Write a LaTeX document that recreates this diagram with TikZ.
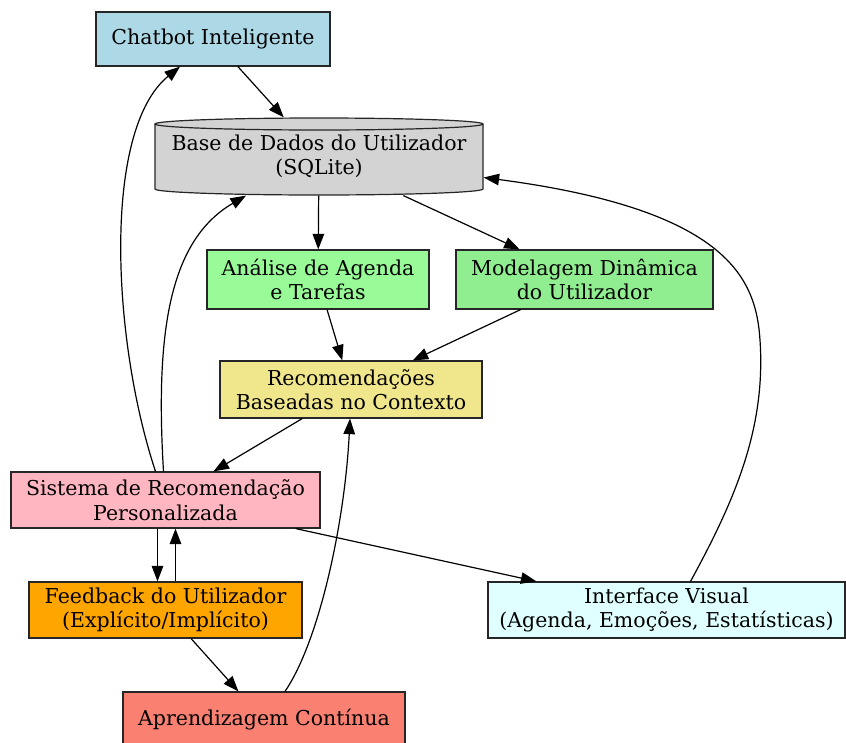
\documentclass[tikz,border=0pt]{standalone}
\usepackage{fontspec}
\setmainfont{DejaVu Serif}
\usetikzlibrary{arrows.meta}
\definecolor{clightblue}{HTML}{ADD8E6}
\definecolor{clightgray}{HTML}{D3D3D3}
\definecolor{cpalegreen}{HTML}{98FB98}
\definecolor{clightgreen}{HTML}{90EE90}
\definecolor{ckhaki}{HTML}{F0E68C}
\definecolor{clightpink}{HTML}{FFB6C1}
\definecolor{corange}{HTML}{FFA500}
\definecolor{clightcyan}{HTML}{E0FFFF}
\definecolor{csalmon}{HTML}{FA8072}
\tikzset{
  box/.style={draw=black!85, line width=1.2pt, rectangle, align=center,
    inner sep=0pt, font=\fontsize{20.5}{24.6}\selectfont},
  link/.style={draw=black, line width=1.2pt,
    -{Triangle[length=15.5pt,width=11.5pt]}}
}
\begin{document}
\begin{tikzpicture}[x=1pt,y=-1pt]
\useasboundingbox (0,0) rectangle (846,742);
\clip (0,0) rectangle (846,742);
\fill[white] (0,0) rectangle (846,742);

% database cylinder (outline drawn by hand, node used for connections)
\fill[clightgray] (155,124) -- (155,189)
  .. controls (155,192.3) and (228.4,195) .. (319,195)
  .. controls (409.6,195) and (483,192.3) .. (483,189) -- (483,124) -- cycle;
\fill[clightgray] (319,124) ellipse[x radius=164, y radius=6];
\draw[line width=1.2pt, black!85] (155,124) -- (155,189)
  .. controls (155,192.3) and (228.4,195) .. (319,195)
  .. controls (409.6,195) and (483,192.3) .. (483,189) -- (483,124);
\draw[line width=1.2pt, black!85] (319,124) ellipse[x radius=164, y radius=6];
\node[box, draw=none, minimum width=328pt, minimum height=77pt] (db) at (319,156.5)
  {Base de Dados do Utilizador\\(SQLite)};

\node[box, fill=clightblue, minimum width=234pt, minimum height=54pt] (chat) at (213,39) {Chatbot Inteligente};
\node[box, fill=cpalegreen, minimum width=222pt, minimum height=59pt] (ana) at (318,279.5) {Análise de Agenda\\e Tarefas};
\node[box, fill=clightgreen, minimum width=257pt, minimum height=59pt] (mod) at (584.5,279.5) {Modelagem Dinâmica\\do Utilizador};
\node[box, fill=ckhaki, minimum width=262pt, minimum height=57pt] (rec) at (351,389.5) {Recomendações\\Baseadas no Contexto};
\node[box, fill=clightpink, minimum width=309pt, minimum height=56pt] (sis) at (165.5,500) {Sistema de Recomendação\\Personalizada};
\node[box, fill=corange, minimum width=273pt, minimum height=56pt] (fb) at (165.5,610) {Feedback do Utilizador\\(Explícito/Implícito)};
\node[box, fill=clightcyan, minimum width=357pt, minimum height=56pt] (iface) at (666.5,610) {Interface Visual\\(Agenda, Emoções, Estatísticas)};
\node[box, fill=csalmon, minimum width=282pt, minimum height=56pt] (apr) at (264,720) {Aprendizagem Contínua};

% straight connectors
\draw[link] (chat) -- (db);
\draw[link] (db) -- (ana);
\draw[link] (db) -- (mod);
\draw[link] (ana) -- (rec);
\draw[link] (mod) -- (rec);
\draw[link] (rec) -- (sis);
\draw[link] ([xshift=-8pt]sis.south) -- ([xshift=-8pt]fb.north);
\draw[link] ([xshift=10pt]fb.north) -- ([xshift=10pt]sis.south);
\draw[link] (sis) -- (iface);
\draw[link] (fb) -- (apr);

% curved connectors
\draw[link] ([xshift=-10pt]sis.north) .. controls (112,340) and (102,130) .. ([xshift=-33pt]chat.south);
\draw[link] ([xshift=-2pt]sis.north) .. controls (155,330) and (170,240) .. ([xshift=-73pt]db.south);
\draw[link] ([xshift=21pt]apr.north) .. controls (320,640) and (345,520) .. ([xshift=-1pt]rec.south);
\coordinate (bend) at (760,340);
\draw[link] ([xshift=24pt]iface.north) .. controls (735,500) and (766,428) .. (bend)
  .. controls (756,280) and (730,210) .. ([yshift=-21pt]db.east);
\end{tikzpicture}
\end{document}
